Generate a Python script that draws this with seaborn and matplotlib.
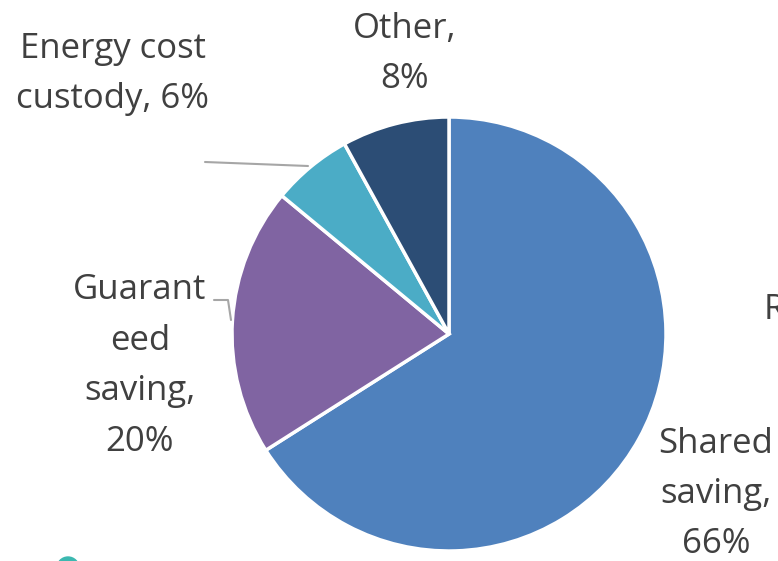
import matplotlib
matplotlib.use("Agg")
import matplotlib.pyplot as plt
import seaborn as sns
from matplotlib.patches import Circle

sns.set_theme(style="white")
plt.rcParams['font.family'] = ['Open Sans', 'DejaVu Sans']

categories = ["Shared saving", "Guaranteed saving", "Energy cost custody", "Other"]
values = [66, 20, 6, 8]
labels = ["Shared\nsaving,\n66%", "Guarant\need\nsaving,\n20%", "Energy cost\ncustody, 6%", "Other,\n8%"]
colors = ["#4F81BD", "#8064A2", "#4BACC6", "#2C4D75"]

W, H = 778, 561
fig = plt.figure(figsize=(W / 100, H / 100), dpi=100)
ax = fig.add_axes([0, 0, 1, 1])

cx, cy, r = 449, 334, 217
# pie on inverted y axis: counterclock=True gives visual clockwise order
ax.pie(values, colors=colors, startangle=-90, counterclock=True,
       center=(cx, cy), radius=r, frame=True,
       wedgeprops=dict(edgecolor="white", linewidth=2.5))
ax.set_xlim(0, W)
ax.set_ylim(H, 0)
ax.axis("off")

tc = "#404040"
fs = 25
ls = 1.63
ax.text(716, 494, labels[0], ha="center", va="center", fontsize=fs, color=tc, linespacing=ls)
ax.text(140, 366, labels[1], ha="center", va="center", fontsize=fs, color=tc, linespacing=ls)
ax.text(113, 74, labels[2], ha="center", va="center", fontsize=fs, color=tc, linespacing=ls)
ax.text(405, 54, labels[3], ha="center", va="center", fontsize=fs, color=tc, linespacing=ls)
ax.text(764, 310, "R", ha="left", va="center", fontsize=fs, color=tc)

# leader lines
ax.plot([205, 308], [162, 166], color="#A6A6A6", lw=1.5)
ax.plot([214, 228, 231], [300, 300, 320], color="#A6A6A6", lw=1.5)

# partial legend markers at bottom edge
ax.add_patch(Circle((68, 568), 11, color="#3BB8B0", clip_on=True))
ax.add_patch(Circle((98, 570), 8, color="#6FC3E6", clip_on=True))

fig.savefig("out.png", dpi=100)
